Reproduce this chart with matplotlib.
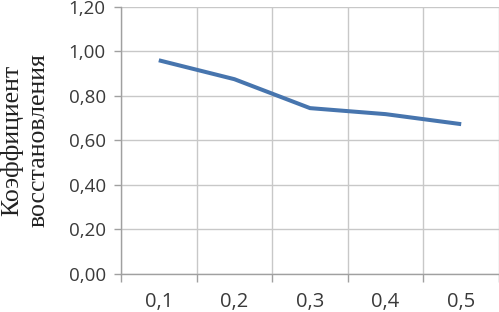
import matplotlib.pyplot as plt
import numpy as np

# data
categories = ["0,1", "0,2", "0,3", "0,4", "0,5"]
values = [0.96, 0.875, 0.745, 0.718, 0.673]
y_ticks = [0.0, 0.2, 0.4, 0.6, 0.8, 1.0, 1.2]
y_label = "Коэффициент\nвосстановления"

fig = plt.figure(figsize=(4.99, 3.12), dpi=100)
ax = fig.add_axes([0.2425, 0.122, 0.7575, 0.856])

x = np.arange(len(categories))
ax.plot(x, values, color="#4775AE", linewidth=2.9, solid_capstyle="butt",
        solid_joinstyle="round", zorder=3)

ax.set_xlim(-0.5, len(categories) - 0.5)
ax.set_ylim(0, 1.2)

# category labels in the middle, tick marks and grid on the boundaries
ax.set_xticks(x)
ax.set_xticklabels(categories)
ax.set_xticks(np.arange(len(categories) + 1) - 0.5, minor=True)
ax.tick_params(axis="x", which="major", length=0, pad=13)
ax.tick_params(axis="x", which="minor", length=6, color="#a0a0a0", width=1)

ax.set_yticks(y_ticks)
ax.set_yticklabels([f"{v:.2f}".replace(".", ",") for v in y_ticks])
ax.tick_params(axis="y", length=5, color="#a0a0a0", width=1, pad=6)

for lab in ax.get_yticklabels():
    lab.set_fontfamily("Open Sans")
    lab.set_fontsize(13.5)
    lab.set_color("#3a3a3a")
for lab in ax.get_xticklabels():
    lab.set_fontfamily("Open Sans")
    lab.set_fontsize(14.5)
    lab.set_color("#3a3a3a")

ax.grid(True, which="minor", axis="x", color="#c8c8c8", linewidth=1)
ax.grid(True, which="major", axis="y", color="#c8c8c8", linewidth=1)

for side in ["top", "right"]:
    ax.spines[side].set_visible(False)
for side in ["left", "bottom"]:
    ax.spines[side].set_color("#a0a0a0")
    ax.spines[side].set_linewidth(1)

fig.text(0.05, 0.55, y_label, rotation=90, ha="center", va="center",
         family="Liberation Serif", fontsize=18.5, color="#222222",
         linespacing=1.2)

plt.savefig("out.png", dpi=100)
plt.close(fig)
